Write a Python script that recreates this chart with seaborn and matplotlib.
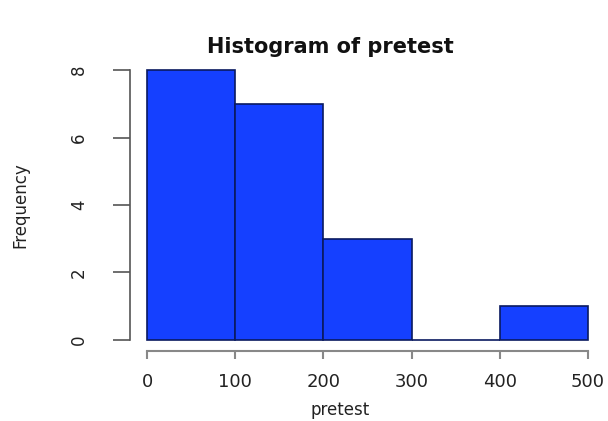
import numpy as np
import pandas as pd
import matplotlib
matplotlib.use('Agg')
import matplotlib.pyplot as plt
import seaborn as sns

sns.set_style('white')
plt.rcParams['font.family'] = ['DejaVu Sans']

# histogram of pretest
bin_edges = [0, 100, 200, 300, 400, 500]
bin_mids = [50, 150, 250, 350, 450]
counts = [8, 7, 3, 0, 1]
x_ticks = [0, 100, 200, 300, 400, 500]
y_ticks = [0, 2, 4, 6, 8]

df = pd.DataFrame({'pretest': bin_mids, 'n': counts})

W, H = 608, 421
fig = plt.figure(figsize=(W / 100, H / 100), dpi=100)
ax = fig.add_axes([0.213, 0.167, 0.783, 0.692])

sns.histplot(data=df, x='pretest', weights='n', bins=bin_edges, ax=ax,
             color='#1540ff', alpha=1, edgecolor='#0a1a60', linewidth=1.2)

ax.set_xlim(-20, 520)
ax.set_ylim(-0.32, 8.32)

# R style axes: detached lines only over tick range
for s in ['top', 'right']:
    ax.spines[s].set_visible(False)
ax.spines['left'].set_bounds(0, 8)
ax.spines['bottom'].set_bounds(0, 500)
ax.spines['left'].set_color('#555555')
ax.spines['bottom'].set_color('#888888')
ax.spines['left'].set_linewidth(1.2)
ax.spines['bottom'].set_linewidth(1.5)

ax.set_xticks(x_ticks)
ax.set_yticks(y_ticks)
ax.set_xticklabels([str(t) for t in x_ticks], fontsize=13, color='#222222')
ax.set_yticklabels([str(t) for t in y_ticks], fontsize=12, rotation=90,
                   va='center', color='#222222')
ax.tick_params(axis='x', direction='out', length=6, width=1.5, color='#888888',
               bottom=True, pad=10)
ax.tick_params(axis='y', direction='out', length=12, width=1.2, color='#555555',
               left=True, pad=18)

ax.set_xlabel('pretest', fontsize=12, color='#222222', va='center')
ax.xaxis.set_label_coords(340 / W, 1 - 410 / H, transform=fig.transFigure)
ax.set_ylabel('Frequency', fontsize=12, color='#222222', va='center')
ax.yaxis.set_label_coords(20 / W, 1 - 205 / H, transform=fig.transFigure)
fig.text(330 / W, 1 - 47 / H, 'Histogram of pretest', fontsize=15,
         fontweight='bold', ha='center', va='center', color='#111111')

fig.savefig('out.png', dpi=100)
